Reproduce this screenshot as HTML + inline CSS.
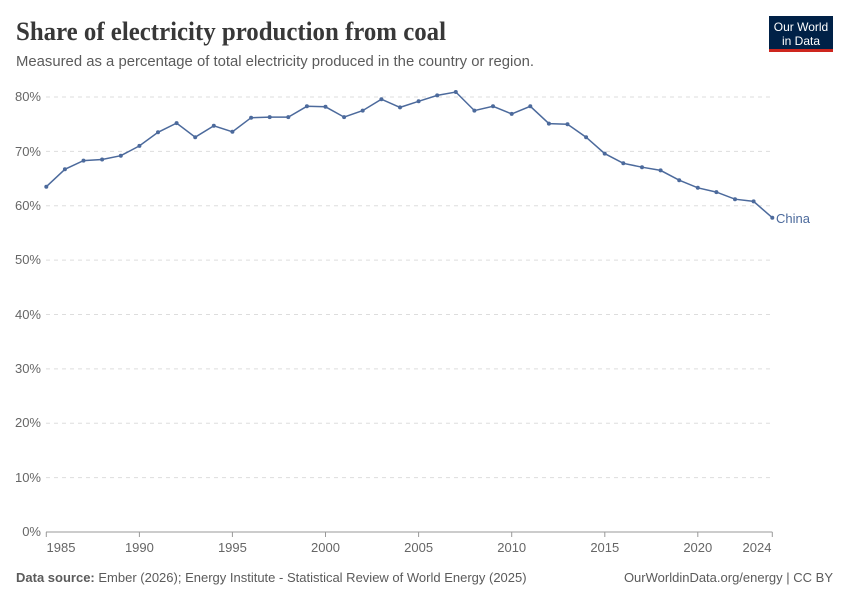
<!DOCTYPE html>
<html><head><meta charset="utf-8"><style>
html,body{margin:0;padding:0;background:#fff;}
svg{display:block;font-family:"Liberation Sans",sans-serif;}
</style></head><body>
<svg width="850" height="600" viewBox="0 0 850 600" xmlns="http://www.w3.org/2000/svg">
<rect width="850" height="600" fill="#fff"/>
<text x="16" y="40" font-family="Liberation Serif,serif" font-weight="bold" font-size="26" fill="#383838" textLength="430" lengthAdjust="spacingAndGlyphs">Share of electricity production from coal</text>
<text x="16" y="66" font-size="15" fill="#5b5b5b" textLength="518" lengthAdjust="spacingAndGlyphs">Measured as a percentage of total electricity produced in the country or region.</text>
<rect x="769" y="16" width="64" height="33" fill="#002147"/>
<rect x="769" y="49" width="64" height="3" fill="#ce261e"/>
<text x="801" y="31" font-size="12" fill="#fff" text-anchor="middle">Our World</text>
<text x="801" y="45" font-size="12" fill="#fff" text-anchor="middle">in Data</text>
<g stroke="#ddd" stroke-dasharray="4,4" stroke-width="1">
<line x1="46" x2="772" y1="477.6" y2="477.6"/>
<line x1="46" x2="772" y1="423.2" y2="423.2"/>
<line x1="46" x2="772" y1="368.9" y2="368.9"/>
<line x1="46" x2="772" y1="314.5" y2="314.5"/>
<line x1="46" x2="772" y1="260.1" y2="260.1"/>
<line x1="46" x2="772" y1="205.8" y2="205.8"/>
<line x1="46" x2="772" y1="151.4" y2="151.4"/>
<line x1="46" x2="772" y1="97" y2="97"/>
</g>
<g font-size="13" fill="#666" text-anchor="end">
<text x="41" y="536">0%</text>
<text x="41" y="482">10%</text>
<text x="41" y="427">20%</text>
<text x="41" y="373">30%</text>
<text x="41" y="319">40%</text>
<text x="41" y="264">50%</text>
<text x="41" y="210">60%</text>
<text x="41" y="156">70%</text>
<text x="41" y="101">80%</text>
</g>
<line x1="46" x2="772.3" y1="532" y2="532" stroke="#999"/>
<g stroke="#999">
<line x1="46.3" x2="46.3" y1="532" y2="537"/>
<line x1="139.4" x2="139.4" y1="532" y2="537"/>
<line x1="232.4" x2="232.4" y1="532" y2="537"/>
<line x1="325.5" x2="325.5" y1="532" y2="537"/>
<line x1="418.6" x2="418.6" y1="532" y2="537"/>
<line x1="511.7" x2="511.7" y1="532" y2="537"/>
<line x1="604.8" x2="604.8" y1="532" y2="537"/>
<line x1="697.8" x2="697.8" y1="532" y2="537"/>
<line x1="772.3" x2="772.3" y1="532" y2="537"/>
</g>
<g font-size="13" fill="#666" text-anchor="middle">
<text x="61" y="552">1985</text>
<text x="139.4" y="552">1990</text>
<text x="232.4" y="552">1995</text>
<text x="325.5" y="552">2000</text>
<text x="418.6" y="552">2005</text>
<text x="511.7" y="552">2010</text>
<text x="604.8" y="552">2015</text>
<text x="697.8" y="552">2020</text>
<text x="757" y="552">2024</text>
</g>
<g id="series"></g>
<text x="776" y="223" font-size="13" fill="#4c6a9c">China</text>
<text x="16" y="582" font-size="13" fill="#5b5b5b"><tspan font-weight="bold">Data source:</tspan> Ember (2026); Energy Institute - Statistical Review of World Energy (2025)</text>
<text x="833" y="582" font-size="13" fill="#5b5b5b" text-anchor="end">OurWorldinData.org/energy | CC BY</text>
<polyline fill="none" stroke="#4c6a9c" stroke-width="1.5" points="46.3,186.7 64.9,169.3 83.5,160.6 102.1,159.5 120.8,155.7 139.4,145.9 158.0,132.3 176.6,123.1 195.2,137.2 213.8,125.8 232.4,131.8 251.1,117.7 269.7,117.1 288.3,117.1 306.9,106.3 325.5,106.8 344.1,117.1 362.7,110.6 381.4,99.2 400.0,107.4 418.6,101.3 437.2,95.4 455.8,92.0 474.4,110.6 493.0,106.3 511.7,113.9 530.3,106.3 548.9,123.6 567.5,124.2 586.1,137.2 604.7,153.6 623.3,163.3 642.0,167.2 660.6,170.4 679.2,180.2 697.8,187.8 716.4,192.1 735.0,199.2 753.6,201.4 772.3,217.7"/>
<g fill="#4c6a9c">
<circle cx="46.3" cy="186.7" r="2"/><circle cx="64.9" cy="169.3" r="2"/><circle cx="83.5" cy="160.6" r="2"/><circle cx="102.1" cy="159.5" r="2"/><circle cx="120.8" cy="155.7" r="2"/><circle cx="139.4" cy="145.9" r="2"/><circle cx="158.0" cy="132.3" r="2"/><circle cx="176.6" cy="123.1" r="2"/><circle cx="195.2" cy="137.2" r="2"/><circle cx="213.8" cy="125.8" r="2"/><circle cx="232.4" cy="131.8" r="2"/><circle cx="251.1" cy="117.7" r="2"/><circle cx="269.7" cy="117.1" r="2"/><circle cx="288.3" cy="117.1" r="2"/><circle cx="306.9" cy="106.3" r="2"/><circle cx="325.5" cy="106.8" r="2"/><circle cx="344.1" cy="117.1" r="2"/><circle cx="362.7" cy="110.6" r="2"/><circle cx="381.4" cy="99.2" r="2"/><circle cx="400.0" cy="107.4" r="2"/><circle cx="418.6" cy="101.3" r="2"/><circle cx="437.2" cy="95.4" r="2"/><circle cx="455.8" cy="92.0" r="2"/><circle cx="474.4" cy="110.6" r="2"/><circle cx="493.0" cy="106.3" r="2"/><circle cx="511.7" cy="113.9" r="2"/><circle cx="530.3" cy="106.3" r="2"/><circle cx="548.9" cy="123.6" r="2"/><circle cx="567.5" cy="124.2" r="2"/><circle cx="586.1" cy="137.2" r="2"/><circle cx="604.7" cy="153.6" r="2"/><circle cx="623.3" cy="163.3" r="2"/><circle cx="642.0" cy="167.2" r="2"/><circle cx="660.6" cy="170.4" r="2"/><circle cx="679.2" cy="180.2" r="2"/><circle cx="697.8" cy="187.8" r="2"/><circle cx="716.4" cy="192.1" r="2"/><circle cx="735.0" cy="199.2" r="2"/><circle cx="753.6" cy="201.4" r="2"/><circle cx="772.3" cy="217.7" r="2"/>
</g>
</svg>
</body></html>
